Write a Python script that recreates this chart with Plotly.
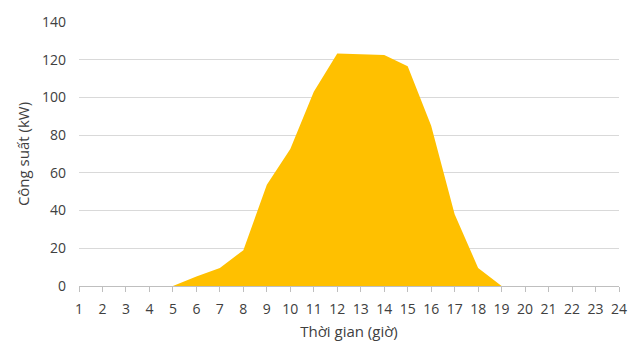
import plotly.graph_objects as go

hours = list(range(1, 25))
power_kw = [0, 0, 0, 0, 0, 5, 9.6, 19, 53.7, 72.7, 103, 123.3, 123, 122.5, 116.5, 85, 38, 9.6, 0, 0, 0, 0, 0, 0]

x_title = "Thời gian (giờ)"
y_title = "Công suất (kW)"

FONT = "Open Sans"
TXT = "#404040"

fig = go.Figure()
fig.add_trace(go.Scatter(
    x=hours, y=power_kw, mode="lines", fill="tozeroy",
    line=dict(width=0, color="#FFC000"), fillcolor="#FFC000",
    hoverinfo="skip", showlegend=False,
))

fig.update_layout(
    width=640, height=349,
    margin=dict(l=79, r=21, t=15, b=62),
    paper_bgcolor="white", plot_bgcolor="white",
    font=dict(family=FONT, size=14, color=TXT),
    xaxis=dict(
        range=[1, 24], tickmode="linear", tick0=1, dtick=1,
        showgrid=False, zeroline=False,
        showline=True, linecolor="#BFBFBF", linewidth=1,
        ticks="outside", ticklen=5, tickcolor="#BFBFBF",
        ticklabelstandoff=5,
        tickfont=dict(family=FONT, size=14, color=TXT),
        title=dict(text=x_title, font=dict(family=FONT, size=15, color=TXT), standoff=9),
    ),
    yaxis=dict(
        range=[0, 140], tickmode="linear", tick0=0, dtick=20,
        showgrid=True, gridcolor="#D9D9D9", gridwidth=1,
        zeroline=False, showline=False,
        ticklabelstandoff=12,
        tickfont=dict(family=FONT, size=14, color=TXT),
        title=dict(text=y_title, font=dict(family=FONT, size=15, color=TXT), standoff=8),
    ),
)

fig.write_html("out.html")
